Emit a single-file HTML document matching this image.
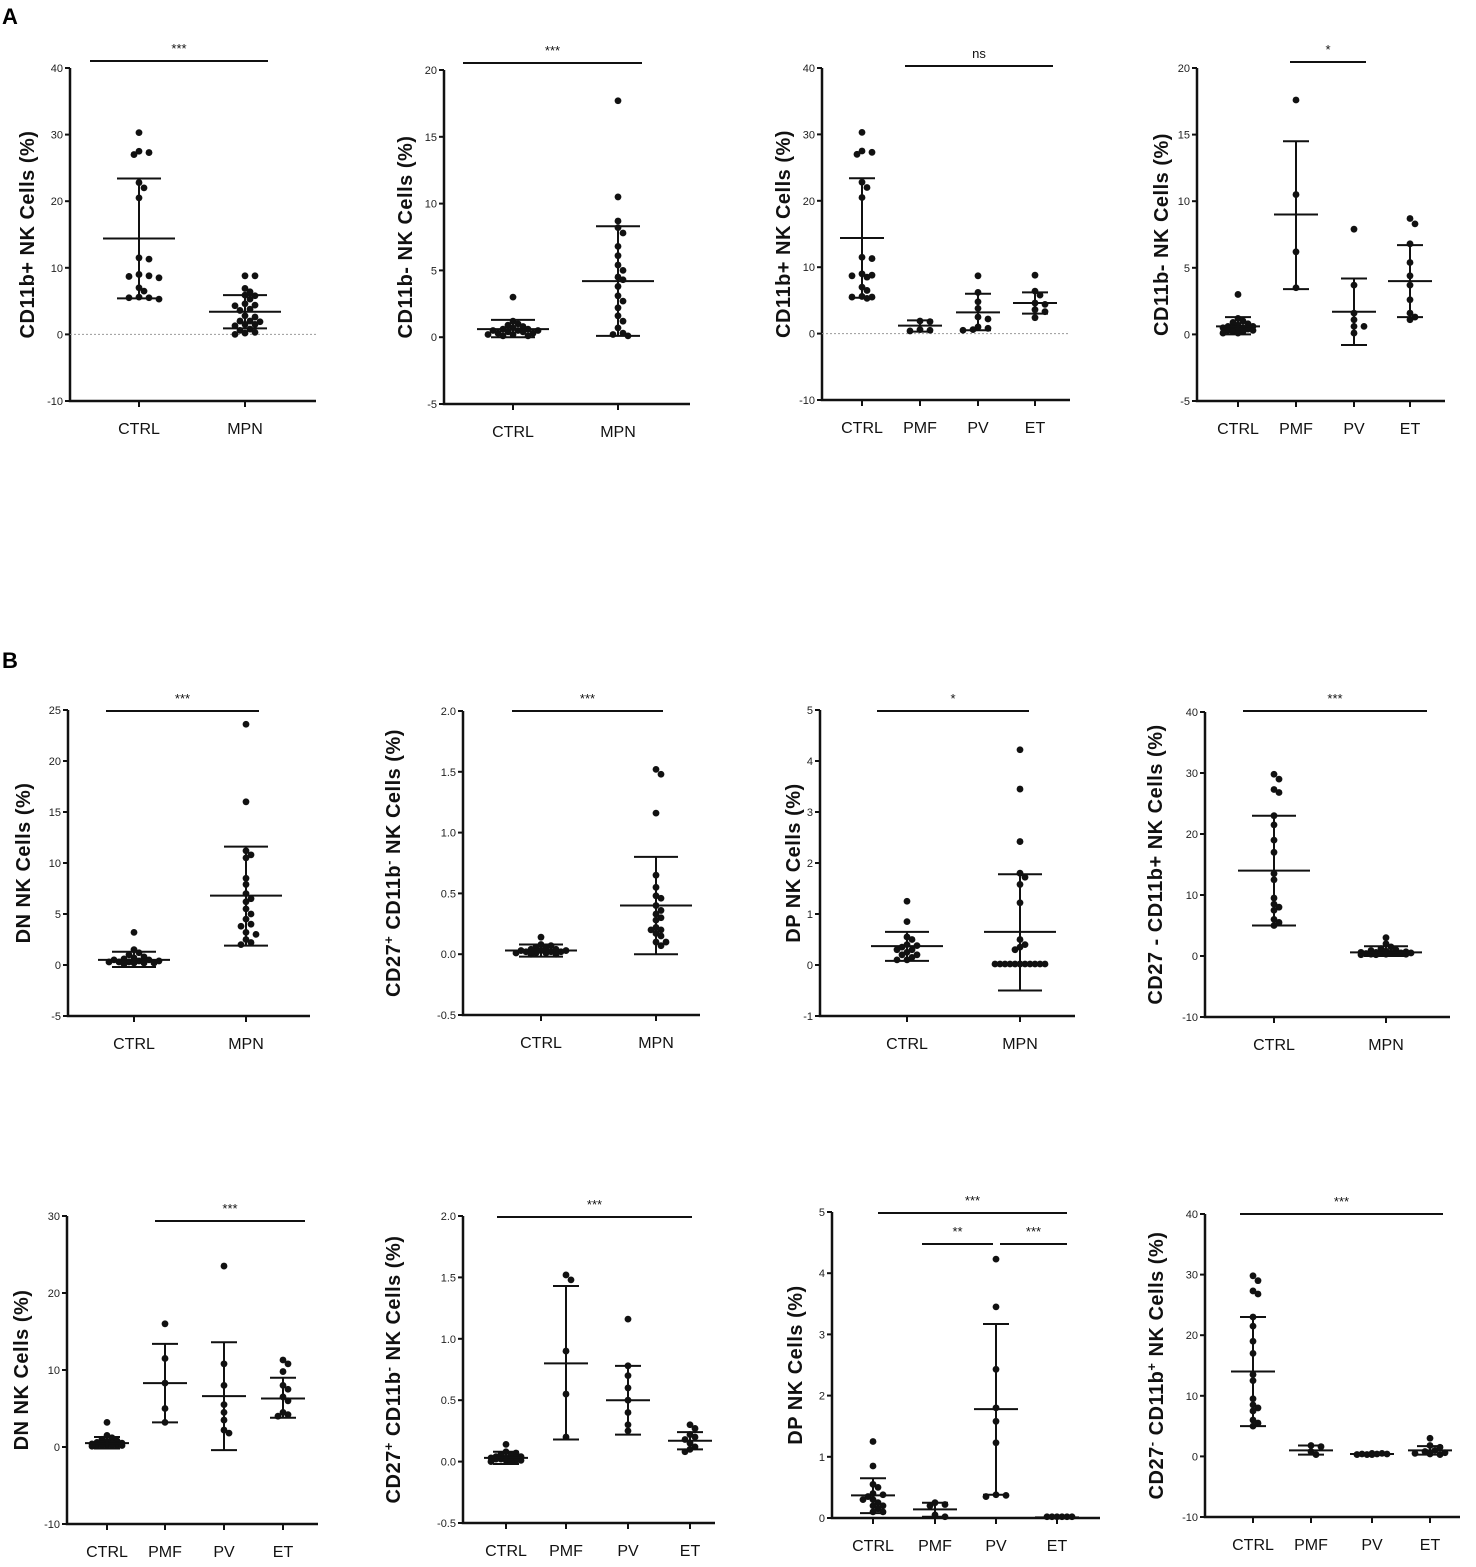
<!DOCTYPE html>
<html><head><meta charset="utf-8"><style>
html,body{margin:0;padding:0;background:#fff;}
svg{display:block;font-family:"Liberation Sans",sans-serif;}
.tk{font-size:11px;fill:#222;}
.cat{font-size:16px;fill:#111;font-family:"Liberation Sans Narrow","Liberation Sans",sans-serif;}
.yl{font-size:20px;font-weight:bold;fill:#111;letter-spacing:0.5px;}
.sig{font-size:13px;fill:#111;}
</style></head><body>
<svg id="fig" width="1476" height="1567" viewBox="0 0 1476 1567">
<text x="2" y="24" font-size="22" font-weight="bold">A</text>
<text x="2" y="668" font-size="22" font-weight="bold">B</text>
</svg>
<script>
// ---- data ----
const cats2 = ["CTRL","MPN"];
const cats4 = ["CTRL","PMF","PV","ET"];
const ctrlA1 = [30.3,27.3,27,27.5,22.8,22,20.5,11.5,11.3,9,8.7,8.5,8.8,7,6.5,5.5,5.3,5.5,5.6];
const mpnA1 = [8.8,8.8,6.9,6.4,5.8,5.9,5.3,4.6,4.3,4.4,3.6,3.8,2.8,2.6,2,2,1.9,1.5,1.5,1.3,0.8,0.6,0.3,0.2,0];
const ctrlA2 = [3.0,1.2,1.0,0.9,0.8,0.7,0.6,0.6,0.5,0.5,0.4,0.4,0.3,0.3,0.2,0.2,0.1,0.1,0.5];
const mpnA2 = [17.7,10.5,8.7,8.2,7.8,6.8,6.1,5.4,5,4.5,4.3,3.8,3.1,2.7,2.2,1.6,1.2,0.7,0.3,0.2,0.1];
const pmfA3 = [1.9,1.8,0.5,0.6,0.4];
const pvA3 = [8.7,6.2,4.8,3.8,2.5,2.2,1,0.8,0.6,0.5];
const etA3 = [8.8,6.4,5.8,4.6,4.4,3.6,3.3,2.4];
const pmfA4 = [17.6,10.5,6.2,3.5];
const pvA4 = [7.9,3.7,1.6,1.1,0.6,0.6,0.1];
const etA4 = [8.7,8.3,6.8,5.4,4.4,3.7,2.6,1.6,1.3,1.1];
const ctrlB1 = [3.2,1.5,1.2,1,0.8,0.7,0.6,0.5,0.5,0.4,0.4,0.3,0.3,0.2,0.2,0.2,0.1,0.3];
const mpnB1 = [23.6,16,11.2,10.8,10.5,8.5,7.9,7,6.5,6.2,5.5,5,4.5,4,3.8,3.2,3,2.5,2.2,2];
const ctrlB2 = [0.14,0.08,0.07,0.06,0.05,0.04,0.04,0.03,0.03,0.02,0.02,0.02,0.01,0.01,0.01,0.0,0.0,0.03];
const mpnB2 = [1.52,1.48,1.16,0.65,0.55,0.46,0.48,0.4,0.36,0.33,0.3,0.28,0.22,0.2,0.2,0.17,0.15,0.1,0.1,0.07];
const ctrlB3 = [1.25,0.85,0.55,0.5,0.4,0.38,0.35,0.3,0.25,0.2,0.15,0.1,0.1,0.3,0.2];
const mpnB3 = [4.22,3.45,2.42,1.8,1.72,1.58,1.22,0.5,0.4,0.35,0.3,0.02,0.02,0.02,0.02,0.02,0.02,0.02,0.02,0.02,0.02,0.02,0.02];
const ctrlB4 = [29.8,29,27.3,26.8,23,21.5,19,17,13.5,12.5,9.5,8.5,8,7.5,6,5.5,5];
const mpnB4 = [3,2,1.5,1.2,1,0.9,0.8,0.7,0.6,0.6,0.5,0.5,0.5,0.4,0.4,0.4,0.3,0.3,0.3,0.2,0.2];
const pmfB5 = [16,11.5,8.3,5,3.2];
const pvB5 = [23.5,10.8,8,5.5,4.5,3.5,2.2,1.8];
const etB5 = [11.3,10.8,9.8,8,7.5,6.5,6,4.5,4.2,4];
const pmfB6 = [1.52,1.48,0.9,0.55,0.2];
const pvB6 = [1.16,0.78,0.7,0.6,0.5,0.4,0.3,0.25];
const etB6 = [0.3,0.27,0.22,0.2,0.18,0.15,0.12,0.1,0.08];
const pmfB7 = [0.25,0.22,0.05,0.02,0.2];
const pvB7 = [4.23,3.45,2.43,1.8,1.58,1.23,0.38,0.35,0.37];
const etB7 = [0.02,0.02,0.02,0.02,0.02,0.02];
const pmfB8 = [1.8,1.6,0.8,0.3];
const pvB8 = [0.5,0.5,0.4,0.4,0.4,0.3,0.3,0.3];
const etB8 = [3,1.8,1.5,1,0.8,0.6,0.5,0.4,0.3];
// mean, lower SD, upper SD per group
const statA1 = [[14.4,5.4,23.4],[3.4,0.9,5.9]];
const statA2 = [[0.6,0,1.3],[4.2,0.1,8.3]];
const statA3 = [[14.4,5.4,23.4],[1.2,0.3,2],[3.2,0.5,6],[4.6,3,6.2]];
const statA4 = [[0.6,0,1.3],[9,3.4,14.5],[1.7,-0.8,4.2],[4,1.3,6.7]];
const statB1 = [[0.5,-0.2,1.3],[6.8,1.9,11.6]];
const statB2 = [[0.03,-0.02,0.08],[0.4,0,0.8]];
const statB3 = [[0.37,0.08,0.65],[0.65,-0.5,1.78]];
const statB4 = [[14,5,23],[0.6,0,1.6]];
const statB5 = [[0.5,-0.2,1.3],[8.3,3.2,13.4],[6.6,-0.4,13.6],[6.3,3.8,9]];
const statB6 = [[0.03,-0.02,0.08],[0.8,0.18,1.43],[0.5,0.22,0.78],[0.17,0.1,0.24]];
const statB7 = [[0.37,0.08,0.65],[0.14,0.02,0.25],[1.78,0.38,3.17],[0.01,0,0.02]];
const statB8 = [[14,5,23],[1,0.3,1.8],[0.4,0.3,0.5],[1,0.3,1.7]];
const ticksA1 = [-10,0,10,20,30,40];
const ticksA2 = [-5,0,5,10,15,20];
const ticksB1 = [-5,0,5,10,15,20,25];
const ticksB2 = ["-0.5","0.0","0.5","1.0","1.5","2.0"];
const ticksB3 = [-1,0,1,2,3,4,5];
const ticksB5 = [-10,0,10,20,30];
const ticksB7 = [0,1,2,3,4,5];

const NS="http://www.w3.org/2000/svg";
const svg=document.getElementById('fig');
function mk(tag,attrs,parent){const e=document.createElementNS(NS,tag);for(const k in attrs)e.setAttribute(k,attrs[k]);(parent||svg).appendChild(e);return e;}

function panel(p){
  const g=mk('g',{},svg);
  
  
  const tv=p.ticks.map(Number);
  const lo=Math.min(...tv),hi=Math.max(...tv);
  const y=v=>p.bot-(v-lo)/(hi-lo)*(p.bot-p.top);
  const ax=mk('path',{d:`M${p.ax},${p.top}V${p.bot}H${p.xend}`,stroke:'#111','stroke-width':2.5,fill:'none'},g);
  
  
  p.ticks.forEach(t=>{const yy=y(Number(t));
    mk('line',{x1:p.ax-5,x2:p.ax,y1:yy,y2:yy,stroke:'#111','stroke-width':2},g);
    const tx=mk('text',{x:p.ax-7,y:yy+4,'text-anchor':'end',class:'tk'},g);tx.textContent=t;
    
    });
  if(p.zero){const zl=mk('line',{x1:p.ax,x2:p.xend,y1:y(0),y2:y(0),stroke:'#999','stroke-width':1,'stroke-dasharray':'2,2'},g);
    
    }
  const yl=mk('text',{x:p.lx,y:(p.top+p.bot)/2,'text-anchor':'middle',class:'yl',transform:`rotate(-90 ${p.lx} ${(p.top+p.bot)/2})`},g);
  yl.innerHTML=p.label;
  
  
  const n=p.cats.length; const mw=n===2?36:22, cw=n===2?22:13;
  const maxOff=n===2?28:16;
  p.cats.forEach((c,i)=>{const cx=p.cx[i];
    mk('line',{x1:cx,x2:cx,y1:p.bot,y2:p.bot+6,stroke:'#111','stroke-width':2},g);
    const t=mk('text',{x:cx,y:p.bot+33,'text-anchor':'middle',class:'cat'},g);t.textContent=c;
    
    
    const vals=[...p.data[i]].sort((a,b)=>b-a);const placed=[];const r=3.4;
    const cands=[0];for(let k=1;k*5<=maxOff;k++){cands.push(k*5);cands.push(-k*5);}
    vals.forEach(v=>{const yy=y(v);let best=0,bestD=-1;
      for(const o of cands){const d=placed.length?Math.min(...placed.map(q=>Math.hypot(q[0]-(cx+o),q[1]-yy))):99;
        if(d>=5.5){best=o;bestD=d;break;} if(d>bestD){bestD=d;best=o;}}
      placed.push([cx+best,yy]);
      const d=mk('circle',{cx:cx+best,cy:yy,r:r,fill:'#111'},g);
      
      });
    const s=p.stat[i];
    const eb=mk('path',{d:`M${cx-mw},${y(s[0])}H${cx+mw}M${cx},${y(s[1])}V${y(s[2])}M${cx-cw},${y(s[1])}H${cx+cw}M${cx-cw},${y(s[2])}H${cx+cw}`,stroke:'#111','stroke-width':2,fill:'none'},g);
    
    
  });
  (p.sigs||[]).forEach(sg=>{const l=mk('line',{x1:sg[0],x2:sg[1],y1:sg[2],y2:sg[2],stroke:'#111','stroke-width':2},g);
    
    
    const t=mk('text',{x:(sg[0]+sg[1])/2,y:sg[2]-8,'text-anchor':'middle',class:'sig'},g);t.textContent=sg[3];
    
    });
}
const L1='CD11b+ NK Cells (%)', L2='CD11b- NK Cells (%)';
const L3='CD27<tspan dy="-7" font-size="13">+</tspan><tspan dy="7"> CD11b</tspan><tspan dy="-7" font-size="13">-</tspan><tspan dy="7"> NK Cells (%)</tspan>';
const L4='CD27<tspan dy="-7" font-size="13">-</tspan><tspan dy="7"> CD11b</tspan><tspan dy="-7" font-size="13">+</tspan><tspan dy="7"> NK Cells (%)</tspan>';
panel({name:'panel-a1',ax:70,top:68,bot:401,xend:316,ticks:ticksA1,zero:true,lx:34,label:L1,cats:cats2,cx:[139,245],data:[ctrlA1,mpnA1],stat:statA1,sigs:[[90,268,61,'***']]});
panel({name:'panel-a2',ax:444,top:70,bot:404,xend:690,ticks:ticksA2,lx:412,label:L2,cats:cats2,cx:[513,618],data:[ctrlA2,mpnA2],stat:statA2,sigs:[[463,642,63,'***']]});
panel({name:'panel-a3',ax:822,top:68,bot:400,xend:1070,ticks:ticksA1,zero:true,lx:790,label:L1,cats:cats4,cx:[862,920,978,1035],data:[ctrlA1,pmfA3,pvA3,etA3],stat:statA3,sigs:[[905,1053,66,'ns']]});
panel({name:'panel-a4',ax:1197,top:68,bot:401,xend:1445,ticks:ticksA2,lx:1168,label:L2,cats:cats4,cx:[1238,1296,1354,1410],data:[ctrlA2,pmfA4,pvA4,etA4],stat:statA4,sigs:[[1290,1366,62,'*']]});
panel({name:'panel-b1',ax:68,top:710,bot:1016,xend:310,ticks:ticksB1,lx:30,label:'DN NK Cells (%)',cats:cats2,cx:[134,246],data:[ctrlB1,mpnB1],stat:statB1,sigs:[[106,259,711,'***']]});
panel({name:'panel-b2',ax:463,top:711,bot:1015,xend:700,ticks:ticksB2,lx:400,label:L3,cats:cats2,cx:[541,656],data:[ctrlB2,mpnB2],stat:statB2,sigs:[[512,663,711,'***']]});
panel({name:'panel-b3',ax:820,top:710,bot:1016,xend:1075,ticks:ticksB3,lx:800,label:'DP NK Cells (%)',cats:cats2,cx:[907,1020],data:[ctrlB3,mpnB3],stat:statB3,sigs:[[877,1029,711,'*']]});
panel({name:'panel-b4',ax:1205,top:712,bot:1017,xend:1450,ticks:ticksA1,lx:1162,label:'CD27 - CD11b+ NK Cells (%)',cats:cats2,cx:[1274,1386],data:[ctrlB4,mpnB4],stat:statB4,sigs:[[1243,1427,711,'***']]});
panel({name:'panel-b5',ax:67,top:1216,bot:1524,xend:318,ticks:ticksB5,lx:28,label:'DN NK Cells (%)',cats:cats4,cx:[107,165,224,283],data:[ctrlB1,pmfB5,pvB5,etB5],stat:statB5,sigs:[[155,305,1221,'***']]});
panel({name:'panel-b6',ax:463,top:1216,bot:1523,xend:715,ticks:ticksB2,lx:400,label:L3,cats:cats4,cx:[506,566,628,690],data:[ctrlB2,pmfB6,pvB6,etB6],stat:statB6,sigs:[[497,692,1217,'***']]});
panel({name:'panel-b7',ax:832,top:1212,bot:1518,xend:1100,ticks:ticksB7,lx:802,label:'DP NK Cells (%)',cats:cats4,cx:[873,935,996,1057],data:[ctrlB3,pmfB7,pvB7,etB7],stat:statB7,sigs:[[878,1067,1213,'***'],[922,993,1244,'**'],[1000,1067,1244,'***']]});
panel({name:'panel-b8',ax:1205,top:1214,bot:1517,xend:1460,ticks:ticksA1,lx:1163,label:L4,cats:cats4,cx:[1253,1311,1372,1430],data:[ctrlB4,pmfB8,pvB8,etB8],stat:statB8,sigs:[[1240,1443,1214,'***']]});
</script>
</body></html>
